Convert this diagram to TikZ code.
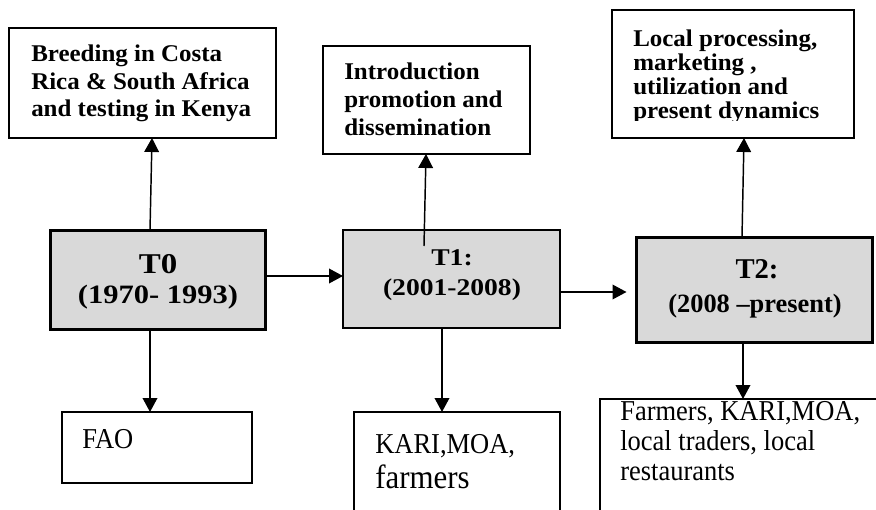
\documentclass[tikz,border=0pt]{standalone}
\usepackage{fontspec}
\setmainfont{Liberation Serif}
\newfontfamily\cam[FakeStretch=1.04]{Liberation Serif}
\newfontfamily\camwide[FakeStretch=1.15]{Liberation Serif}
\newfontfamily\tnr{Liberation Serif}
\newfontfamily\tnrtall[FakeStretch=0.92]{Liberation Serif}
\usetikzlibrary{calc,arrows.meta}
\definecolor{boxgray}{HTML}{D9D9D9}
\tikzset{
  box/.style={draw=black, line width=0.9pt, rectangle, inner sep=0pt, outer sep=0pt},
  stagebox/.style={box, fill=boxgray},
  thickbox/.style={stagebox, line width=2.5pt},
  arr/.style={line width=1.1pt, -{Triangle[length=10.5pt,width=11pt]}},
  line/.style={inner sep=0pt, anchor=base west},
  mid/.style={inner sep=0pt, anchor=base},
  headfont/.style={font=\cam\bfseries\fontsize{18}{21}\selectfont},
  actorfont/.style={font=\tnrtall\fontsize{21.6}{24}\selectfont}
}
\begin{document}
\begin{tikzpicture}[x=0.75pt, y=-0.75pt]
\useasboundingbox (0,0) rectangle (876,510);
\clip (0,0) rectangle (876,510);

% activity boxes along the top
\node[box, minimum width=200.25pt, minimum height=82.5pt] (top0) at (142.5,83) {};
\node[box, minimum width=155.25pt, minimum height=81pt] (top1) at (426.5,100) {};
\node[box, minimum width=181.5pt, minimum height=96pt] (top2) at (733,74) {};

% period boxes
\node[thickbox, minimum width=161.25pt, minimum height=74.25pt] (t0) at (158,280) {};
\node[stagebox, minimum width=162.75pt, minimum height=73.5pt] (t1) at (451.5,279) {};
\node[thickbox, minimum width=177pt, minimum height=78.75pt] (t2) at (754.5,290) {};

% actor boxes along the bottom
\node[box, minimum width=142.5pt, minimum height=53.25pt] (b0) at (157,447.5) {};
\node[box, minimum width=154.5pt, minimum height=88.5pt] (b1) at (457,471) {};
\node[box, minimum width=225pt, minimum height=105.75pt] (b2) at (750,469.5) {};

% activity texts
\node[line, headfont] (a01) at (31,62) {Breeding in Costa};
\node[line, headfont] (a02) at (31,90) {Rica \& South Africa};
\node[line, headfont] (a03) at (31,117) {and testing in Kenya};

\node[line, headfont] (a11) at (344,80) {Introduction};
\node[line, headfont] (a12) at (344,108) {promotion and};
\node[line, headfont] (a13) at (344,136) {dissemination};

\begin{scope}
  \clip (top2.north west) rectangle ($(top2.south east)+(0,-17)$);
  \node[line, headfont] (a21) at (633,47) {Local processing,};
  \node[line, headfont] (a22) at (633,71) {marketing ,};
  \node[line, headfont] (a23) at (633,95) {utilization and};
  \node[line, headfont] (a24) at (633,119) {present dynamics};
\end{scope}

% period labels
\node[mid, font=\camwide\bfseries\fontsize{21.5}{24}\selectfont] (t0a) at (158,273) {T0};
\node[mid, font=\camwide\bfseries\fontsize{19.9}{24}\selectfont] (t0b) at (158,303) {(1970- 1993)};
\node[mid, font=\camwide\bfseries\fontsize{18}{20}\selectfont] (t1a) at (452,265) {T1:};
\node[mid, font=\camwide\bfseries\fontsize{18}{20}\selectfont] (t1b) at (452,295) {(2001-2008)};
\node[mid, font=\tnr\bfseries\fontsize{21.5}{24}\selectfont] (t2a) at (757,278) {T2:};
\node[mid, font=\tnr\bfseries\fontsize{19.8}{24}\selectfont] (t2b) at (755,312) {(2008 –present)};

% actor texts
\node[line, actorfont] (c01) at (82,448) {FAO};
\node[line, actorfont] (c11) at (375,453) {KARI,MOA,};
\node[line, font=\tnrtall\fontsize{25.2}{28}\selectfont] (c12) at (375,488) {farmers};
\node[line, actorfont] (c21) at (620,420) {Farmers, KARI,MOA,};
\node[line, actorfont] (c22) at (620,450) {local traders, local};
\node[line, actorfont] (c23) at (620,480) {restaurants};

% connectors
\draw[arr] ($(t0.north)+(-8,0)$) -- ($(top0.south)+(9.5,0)$);
\draw[arr] ($(t1.north)+(-27.5,16)$) -- ($(top1.south)+(-0.5,0)$);
\draw[arr] ($(t2.north)+(-12.5,0)$) -- ($(top2.south)+(11,0)$);
\draw[arr] ($(t0.east)+(0,-4)$) -- ($(t1.west)+(0,-3)$);
\draw[arr] ($(t1.east)+(0,13)$) -- ($(t2.west)+(-10,2)$);
\draw[arr] ($(t0.south)+(-8,0)$) -- ($(b0.north)+(-7,0)$);
\draw[arr] ($(t1.south)+(-9.5,0)$) -- ($(b1.north)+(-15,0)$);
\draw[arr] ($(t2.south)+(-11.5,0)$) -- ($(b2.north)+(-7,0)$);
\end{tikzpicture}
\end{document}
